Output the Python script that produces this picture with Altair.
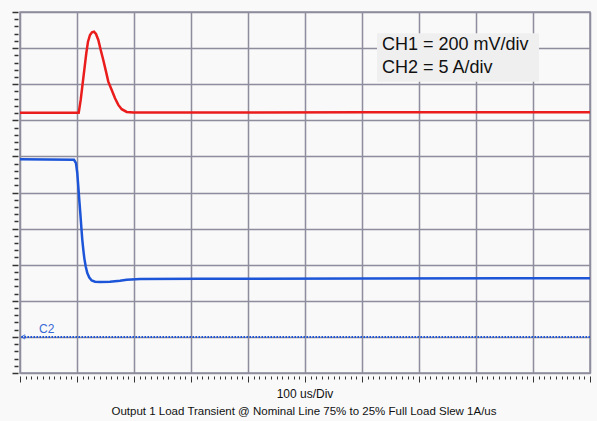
import altair as alt
import pandas as pd

# Time axis in microseconds (100 us/div, 10 divisions); vertical axis in screen divisions
ch1_t = [0, 103.0, 106.5, 110.0, 113.5, 116.3, 119.3, 122.8, 126.3, 129.8, 133.3, 137.4,
         141.6, 146.1, 150.9, 154.9, 160.9, 166.7, 172.5, 178.4, 187.2, 198.8, 400, 600, 800, 1000]
ch1_d = [7.21, 7.21, 7.565, 8.027, 8.486, 8.857, 9.178, 9.363, 9.438, 9.455, 9.391, 9.225,
         8.948, 8.672, 8.348, 8.071, 7.841, 7.611, 7.426, 7.307, 7.232, 7.213, 7.215, 7.22, 7.225, 7.225]

ch2_t = [0, 94.7, 98.2, 100.5, 102.3, 104.0, 105.8, 107.5, 109.3, 111.1, 112.8, 115.3, 118.1,
         121.6, 125.8, 131.6, 140.4, 157.9, 175.4, 187.2, 210.5, 315.8, 600, 1000]
ch2_d = [5.923, 5.904, 5.812, 5.536, 5.165, 4.797, 4.428, 4.058, 3.689, 3.413, 3.183, 2.950, 2.768,
         2.646, 2.563, 2.527, 2.519, 2.527, 2.555, 2.582, 2.602, 2.610, 2.618, 2.624]

c2_ground = 1.0
legend_lines = ["CH1 = 200 mV/div", "CH2 = 5 A/div"]
x_title = "100 us/Div"
caption = "Output 1 Load Transient @ Nominal Line 75% to 25% Full Load Slew 1A/us"

RED = "#ea1c1c"
BLUE = "#1d55d8"
GRID = "#8d8d9d"

x_ticks = list(range(0, 1001, 10))
y_ticks = [round(i * 0.2, 1) for i in range(51)]

x_enc = alt.X("t:Q", scale=alt.Scale(domain=[0, 1000], nice=False, zero=False),
              axis=alt.Axis(values=x_ticks, labels=False, title=None, domain=False,
                            grid=True, gridColor=GRID, gridWidth=1.5,
                            gridOpacity={"condition": {"test": "datum.value % 100 === 0", "value": 1}, "value": 0},
                            tickColor="#333333", tickWidth=1, offset=3,
                            tickSize={"condition": {"test": "datum.value % 100 === 0", "value": 6}, "value": 3}))
y_enc = alt.Y("d:Q", scale=alt.Scale(domain=[0, 10], nice=False, zero=False),
              axis=alt.Axis(values=y_ticks, labels=False, title=None, domain=False,
                            grid=True, gridColor=GRID, gridWidth=1.5,
                            gridOpacity={"condition": {"test": "abs(datum.value - round(datum.value)) < 0.01", "value": 1}, "value": 0},
                            tickColor="#333333", tickWidth=1.5, offset=2,
                            tickSize={"condition": {"test": "abs(datum.value - round(datum.value)) < 0.01", "value": 6}, "value": 4}))

ch1 = pd.DataFrame({"t": ch1_t, "d": ch1_d})
ch2 = pd.DataFrame({"t": ch2_t, "d": ch2_d})

red = alt.Chart(ch1).mark_line(color=RED, strokeWidth=2.5).encode(x=x_enc, y=y_enc)
blue = alt.Chart(ch2).mark_line(color=BLUE, strokeWidth=2.5).encode(x=x_enc, y=y_enc)

c2 = pd.DataFrame({"t": [0], "d": [c2_ground]})
c2_rule = alt.Chart(c2).mark_rule(color=BLUE, strokeWidth=2, strokeDash=[1.5, 1.5]).encode(y=y_enc)
c2_arrow = alt.Chart(c2).mark_point(shape="triangle-left", size=18, color=BLUE, filled=False,
                                     strokeWidth=1, xOffset=3).encode(x=x_enc, y=y_enc)
c2_label = alt.Chart(pd.DataFrame({"t": [46.8], "d": [1.226], "txt": ["C2"]})).mark_text(
    color="#3a6ad6", fontSize=12, font="Liberation Sans", align="center", baseline="middle"
).encode(x=x_enc, y=y_enc, text="txt:N")

legend_box = alt.Chart(pd.DataFrame({"t": [626.3], "t2": [910.5], "d": [9.41], "d2": [8.07]})).mark_rect(
    color="#efefef").encode(x=x_enc, x2="t2:Q", y=y_enc, y2="d2:Q")
legend_text = alt.Chart(pd.DataFrame({"t": [635, 635], "d": [8.95, 8.32], "txt": legend_lines})).mark_text(
    font="Liberation Sans", fontSize=18, align="left", baseline="alphabetic", color="#111111"
).encode(x=x_enc, y=y_enc, text="txt:N")

bottom = alt.Chart(pd.DataFrame({"txt": [x_title]})).mark_text(
    font="Liberation Sans", fontSize=12, align="center", baseline="middle", color="#111111"
).encode(x=alt.value(285), y=alt.value(382), text="txt:N")
bottom2 = alt.Chart(pd.DataFrame({"txt": [caption]})).mark_text(
    font="Liberation Sans", fontSize=11.5, align="center", baseline="middle", color="#111111"
).encode(x=alt.value(284), y=alt.value(399.5), text="txt:N")

chart = alt.layer(legend_box, red, blue, c2_rule, c2_arrow, c2_label, legend_text, bottom, bottom2).properties(
    width=570, height=361,
    autosize=alt.AutoSizeParams(type="none"),
    padding={"left": 20, "top": 12, "right": 7, "bottom": 48},
    background="#f9f9f9",
).configure_view(stroke=GRID, strokeWidth=1.5, fill="#f9f9f9")

chart.save("out.html", embed_options={"renderer": "svg", "actions": False})
